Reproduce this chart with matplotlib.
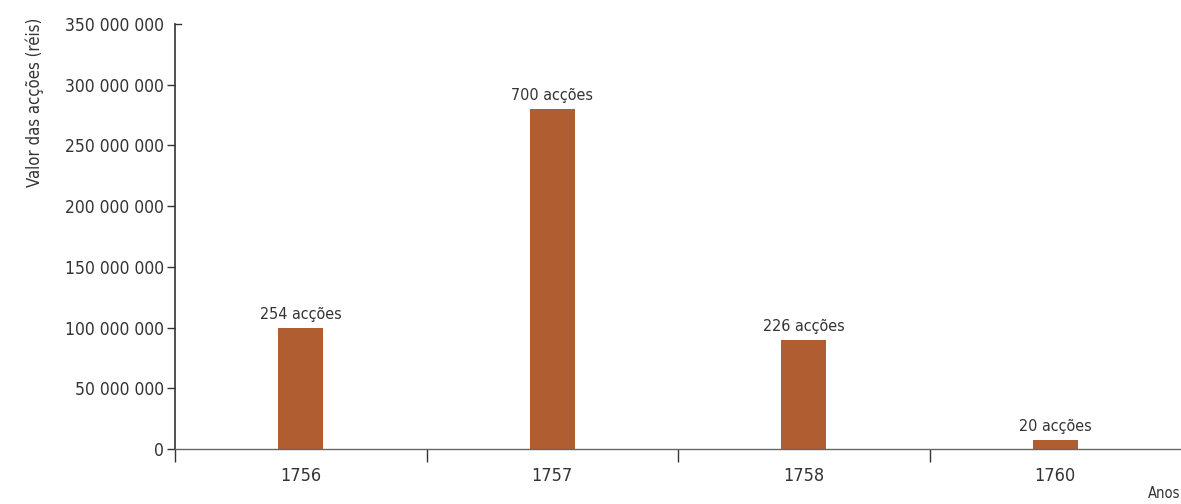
import matplotlib.pyplot as plt
from matplotlib.lines import Line2D

plt.rcParams['font.family'] = ['DejaVu Sans']
plt.rcParams['font.stretch'] = 'condensed'

years = ['1756', '1757', '1758', '1760']
valores = [100000000, 280000000, 90000000, 7500000]
accoes = ['254 acções', '700 acções', '226 acções', '20 acções']
y_ticks = [0, 50000000, 100000000, 150000000, 200000000, 250000000, 300000000, 350000000]

bar_color = '#b05e31'
text_color = '#333333'


def fmt(v):
	return f"{v:,}".replace(',', ' ')


fig = plt.figure(figsize=(11.81, 5.04), dpi=100)
ax = fig.add_axes([175 / 1181, 55 / 504, 1 - 175 / 1181, (449 - 24) / 504])

x = list(range(len(years)))
bars = ax.bar(x, valores, width=0.18, color=bar_color)
for b, lab in zip(bars, accoes):
	ax.annotate(lab, (b.get_x() + b.get_width() / 2, b.get_height()),
		xytext=(0, 4), textcoords='offset points', ha='center', va='bottom',
		fontsize=11.5, color=text_color)

ax.set_xlim(-0.5, len(years) - 0.5)
ax.set_ylim(0, 350000000)

ax.set_yticks(y_ticks)
ax.set_yticklabels([fmt(v) for v in y_ticks], fontsize=12.5, color=text_color)
ax.tick_params(axis='y', direction='out', length=6, width=1, color=text_color, pad=2)
ax.yaxis.get_major_ticks()[-1].tick1line.set_visible(False)

# category labels centred, tick marks between categories
ax.set_xticks(x)
ax.set_xticklabels(years, fontsize=13, color=text_color)
ax.tick_params(axis='x', which='major', length=0, pad=13)
ax.set_xticks([i - 0.5 for i in range(len(years))], minor=True)
ax.tick_params(axis='x', which='minor', direction='out', length=9, width=1, color=text_color)

for s in ['top', 'right']:
	ax.spines[s].set_visible(False)
ax.spines['left'].set_color(text_color)
ax.spines['left'].set_linewidth(1.2)
ax.spines['bottom'].set_color('#666666')
ax.spines['bottom'].set_linewidth(1)

# small cap at the top of the y axis
ax.add_line(Line2D([0, 0.006], [1, 1], transform=ax.transAxes, color=text_color,
	lw=1, clip_on=False))

fig.text(35 / 1181, 1 - 102 / 504, 'Valor das acções (réis)', rotation=90,
	ha='center', va='center', fontsize=12, color=text_color)
fig.text(1180 / 1181, 1 - 494 / 504, 'Anos', ha='right', va='center',
	fontsize=10.5, color=text_color)

fig.savefig('out.png', dpi=100)
